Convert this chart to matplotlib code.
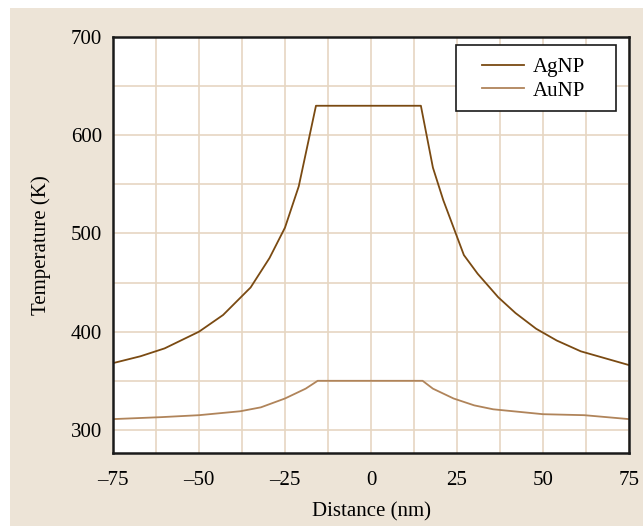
import matplotlib.pyplot as plt
from matplotlib.patches import Rectangle

# AgNP temperature profile
ag_x = [-75, -67, -60, -50, -43, -35, -29.5, -25, -21, -16, 14.5, 18, 21, 27, 31, 37, 42, 48, 54, 61, 75]
ag_t = [368, 375, 383, 400, 417, 445, 475, 506, 548, 630, 630, 567, 534, 478, 459, 435, 419, 403, 391, 380, 366]

# AuNP temperature profile
au_x = [-75, -61, -50, -38, -32, -25, -19, -15.5, 15, 18, 24, 30, 35.5, 50, 62, 75]
au_t = [311, 313, 315, 319, 323, 332, 342, 350, 350, 342, 332, 325, 321, 316, 315, 311]

xticks = [-75, -50, -25, 0, 25, 50, 75]
yticks = [300, 400, 500, 600, 700]

plt.rcParams['font.family'] = ['Liberation Serif', 'DejaVu Serif']

beige = '#ede4d7'
gridc = '#e6d6c2'

fig = plt.figure(figsize=(6.43, 5.26), dpi=100)
fig.patch.set_facecolor('white')
fig.patches.append(Rectangle((10/643, 0), 1, 1 - 8/526, transform=fig.transFigure,
                             facecolor=beige, edgecolor='none', zorder=-10))

ax = fig.add_axes([113/643, 1 - 453/526, 516/643, 416/526])
ax.set_facecolor('white')

ax.plot(ag_x, ag_t, color='#7a4a12', lw=1.3, label='AgNP')
ax.plot(au_x, au_t, color='#b0845a', lw=1.3, label='AuNP')

ax.set_xlim(-75, 75)
ax.set_ylim(276.5, 700)

ax.set_xticks(xticks)
ax.set_xticklabels([str(v).replace('-', '\u2013') for v in xticks])
ax.set_yticks(yticks)
ax.set_xticks([v + 12.5 for v in xticks[:-1]], minor=True)
ax.set_yticks([350, 450, 550, 650], minor=True)
ax.tick_params(which='both', length=0, labelsize=15)
ax.tick_params(axis='x', pad=13)
ax.tick_params(axis='y', pad=8)

ax.grid(True, which='both', color=gridc, lw=1.2)
ax.set_axisbelow(True)

for s in ax.spines.values():
    s.set_linewidth(1.8)
    s.set_color('#1a1a1a')

ax.set_xlabel('Distance (nm)', fontsize=15, labelpad=9)
ax.set_ylabel('Temperature (K)', fontsize=15, labelpad=14)

# legend box drawn separately (padding is wider than tall)
ax.add_patch(Rectangle((0.665, 0.822), 0.31, 0.159, transform=ax.transAxes,
                       facecolor='white', edgecolor='#1a1a1a', lw=1.2, zorder=5))
leg = ax.legend(loc='upper left', fontsize=15, frameon=False, borderpad=0,
                handlelength=2.0, handletextpad=0.45, labelspacing=0.2,
                borderaxespad=0, bbox_to_anchor=(0.715, 0.951))
leg.set_zorder(6)

plt.savefig('out.png', dpi=100, facecolor=fig.get_facecolor())
